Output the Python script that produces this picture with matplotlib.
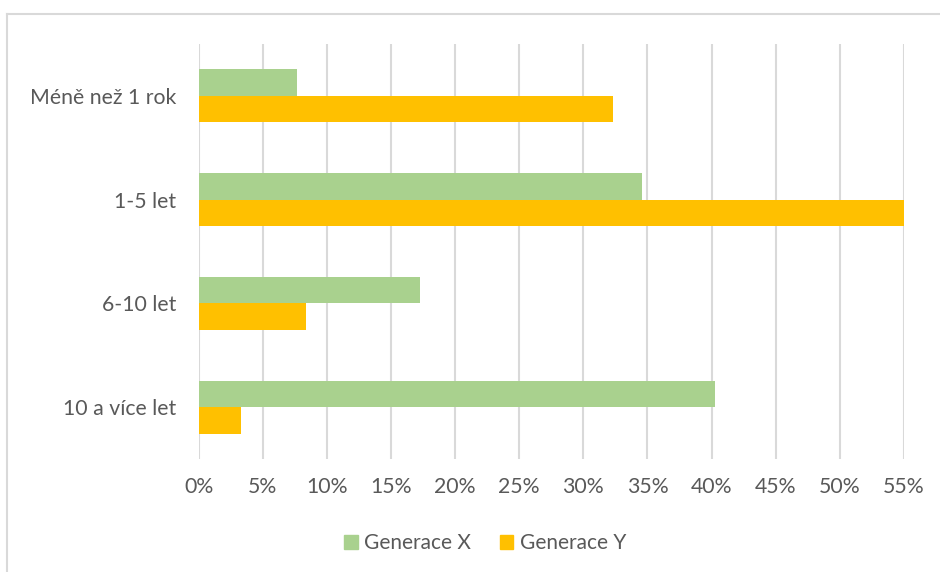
import matplotlib.pyplot as plt
import numpy as np
from matplotlib.patches import Patch
from matplotlib.lines import Line2D
from matplotlib.ticker import FuncFormatter, MultipleLocator

# tenure categories, top to bottom
categories = ['Méně než 1 rok', '1-5 let', '6-10 let', '10 a více let']
gen_x = [7.7, 34.6, 17.3, 40.3]
gen_y = [32.3, 55.0, 8.4, 3.3]
series_names = ['Generace X', 'Generace Y']

green = '#A9D18E'
orange = '#FFC000'
grid_c = '#D9D9D9'
text_c = '#595959'

plt.rcParams['font.family'] = ['Lato', 'DejaVu Sans']

fig = plt.figure(figsize=(9.4, 5.72), dpi=100)
ax = fig.add_axes([0.2112, 0.1976, 0.7505, 0.7254])

y = np.arange(len(categories))
h = 0.256
ax.barh(y - h / 2, gen_x, height=h, color=green, zorder=3)
ax.barh(y + h / 2, gen_y, height=h, color=orange, zorder=3)

ax.set_xlim(0, 55)
ax.set_ylim(len(categories) - 0.5, -0.5)
ax.xaxis.set_major_locator(MultipleLocator(5))
ax.xaxis.set_major_formatter(FuncFormatter(lambda v, p: f'{v:.0f}%'))
ax.set_yticks(y)
ax.set_yticklabels(categories)

ax.grid(axis='x', color=grid_c, linewidth=1.5, zorder=0)
for s in ax.spines.values():
    s.set_visible(False)
ax.tick_params(axis='both', length=0, labelcolor=text_c)
ax.tick_params(axis='y', pad=16, labelsize=15.3)
ax.tick_params(axis='x', pad=13, labelsize=15.3)

# chart-area frame (left and top edges)
fig.add_artist(Line2D([6.5 / 940, 6.5 / 940], [0, 1 - 14 / 572],
                      transform=fig.transFigure, color=grid_c, linewidth=1.5))
fig.add_artist(Line2D([6.5 / 940, 1], [1 - 14 / 572, 1 - 14 / 572],
                      transform=fig.transFigure, color=grid_c, linewidth=1.5))

handles = [Patch(color=green, label=series_names[0]),
           Patch(color=orange, label=series_names[1])]
leg = fig.legend(handles=handles, loc='center', ncol=2,
                 bbox_to_anchor=(485 / 940, 1 - 543 / 572), frameon=False,
                 handlelength=0.65, handleheight=0.65, handletextpad=0.3,
                 columnspacing=1.4, fontsize=15)
for t in leg.get_texts():
    t.set_color(text_c)

plt.savefig('out.png', dpi=100)
